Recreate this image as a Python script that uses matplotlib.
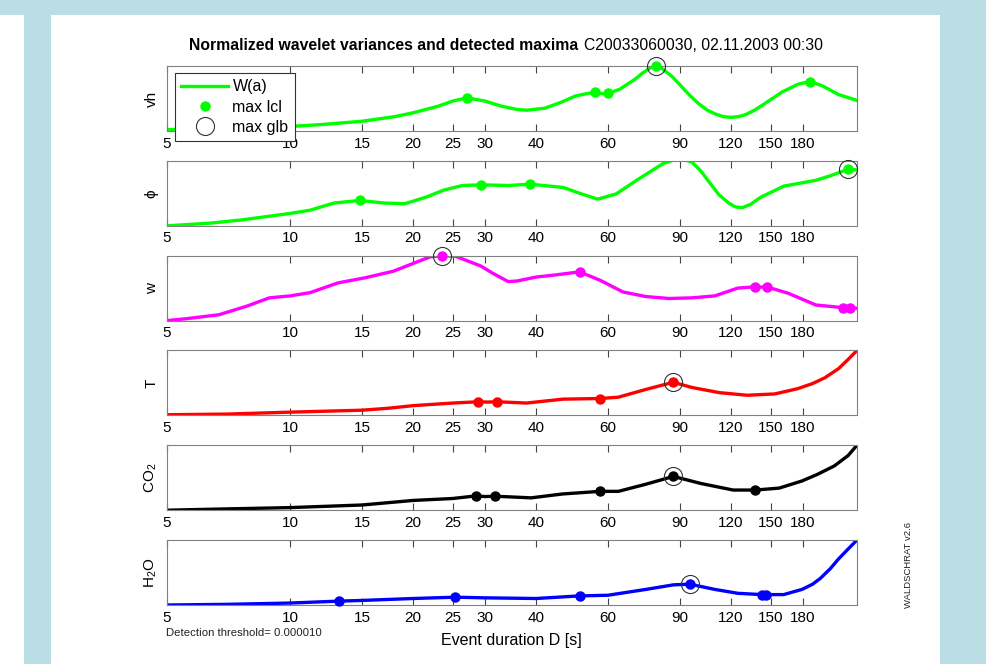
import numpy as np
import matplotlib
matplotlib.use("Agg")
import matplotlib.pyplot as plt
from matplotlib.patches import Rectangle
from matplotlib.lines import Line2D
from matplotlib.ticker import NullLocator

plt.rcParams['font.family'] = ['Liberation Sans', 'DejaVu Sans']
plt.rcParams['mathtext.fontset'] = 'custom'
plt.rcParams['mathtext.rm'] = 'Liberation Sans'
plt.rcParams['mathtext.it'] = 'Liberation Sans:italic'
plt.rcParams['mathtext.bf'] = 'Liberation Sans:bold'

# tick positions / labels on the duration axis
tick_vals = [5, 10, 15, 20, 25, 30, 40, 60, 90, 120, 150, 180]
tick_labels = [str(t) for t in tick_vals]
d_min, d_max = 5, 244

# normalized wavelet variance per channel: duration D [s] and W(a)
vh_D = [5, 7, 10, 12, 15, 18, 20, 23, 25, 27.1, 30, 33, 36, 38, 42, 46, 50, 55.8, 58, 60,
        64, 70, 72.5, 76, 78.8, 81, 86, 90, 95, 100, 105, 110, 115, 120, 125, 130, 137,
        145, 160, 175, 187, 200, 220, 244]
vh_W = [0.02, 0.04, 0.07, 0.10, 0.15, 0.22, 0.28, 0.38, 0.46, 0.51, 0.46, 0.38, 0.33, 0.32,
        0.35, 0.44, 0.54, 0.60, 0.575, 0.58, 0.64, 0.80, 0.88, 0.97, 1.0, 0.97, 0.84, 0.71,
        0.55, 0.42, 0.32, 0.26, 0.22, 0.21, 0.22, 0.25, 0.32, 0.42, 0.60, 0.72, 0.76, 0.70,
        0.56, 0.47]
vh_lcl = [27.1, 55.8, 60, 78.8, 187]
vh_glb = [78.8]

phi_D = [5, 6.36, 7.6, 10, 11.2, 12.8, 14.8, 17, 19.1, 21.5, 23.8, 26.4, 29.3, 34.2, 38.7,
         46.6, 51.7, 56.6, 62.8, 70.5, 78.2, 82, 86.7, 90, 93, 96.2, 101, 106.8, 112,
         118.4, 123, 127.9, 134, 141.9, 161.4, 193.5, 210, 232, 244]
phi_W = [0.0, 0.04, 0.09, 0.19, 0.24, 0.35, 0.39, 0.35, 0.34, 0.44, 0.55, 0.62, 0.63, 0.62,
         0.64, 0.59, 0.49, 0.41, 0.49, 0.70, 0.88, 0.96, 1.01, 1.02, 1.01, 0.98, 0.85, 0.65,
         0.48, 0.35, 0.29, 0.28, 0.33, 0.44, 0.61, 0.70, 0.77, 0.87, 0.86]
phi_lcl = [14.8, 29.3, 38.7, 232]
phi_glb = [232]

w_D = [5, 5.59, 6.7, 7.82, 8.9, 10, 11.2, 13.1, 15.3, 17.9, 20.4, 22.0, 23.6, 25.4, 29.3,
       31.5, 34.2, 36, 40, 44.3, 51.1, 57.4, 65.3, 74.3, 84.6, 96.2, 109.5, 124.6, 137.5,
       142, 146.7, 165.7, 193.5, 225, 230, 235, 244]
w_W = [0.0, 0.03, 0.09, 0.22, 0.35, 0.38, 0.43, 0.58, 0.66, 0.76, 0.90, 0.98, 1.0, 0.99,
       0.84, 0.72, 0.60, 0.61, 0.67, 0.70, 0.75, 0.62, 0.44, 0.37, 0.34, 0.35, 0.38, 0.50,
       0.52, 0.515, 0.52, 0.42, 0.24, 0.20, 0.195, 0.20, 0.19]
w_lcl = [23.6, 51.1, 137.5, 146.7, 225, 235]
w_glb = [23.6]

T_D = [5, 7, 10, 15, 17.4, 20, 25, 28.9, 30.5, 32.1, 37.9, 46.5, 57.4, 63.6, 74.3, 86.7,
       96.2, 112.4, 131.3, 153.4, 174.4, 190, 203.7, 220, 232, 244]
T_W = [0.01, 0.02, 0.05, 0.08, 0.11, 0.15, 0.19, 0.21, 0.205, 0.21, 0.19, 0.25, 0.26, 0.28,
       0.40, 0.51, 0.43, 0.35, 0.31, 0.33, 0.41, 0.49, 0.58, 0.72, 0.86, 1.0]
T_lcl = [28.9, 32.1, 57.4, 86.7]
T_glb = [86.7]

co2_D = [5, 7, 10, 15, 20, 25, 28.5, 30, 31.8, 38.9, 46.5, 57.4, 63.6, 74.3, 86.7, 101.4,
         121.5, 137.5, 157.4, 179, 195, 214.6, 232, 244]
co2_W = [0.0, 0.02, 0.04, 0.08, 0.15, 0.18, 0.22, 0.21, 0.215, 0.19, 0.25, 0.29, 0.29, 0.40,
         0.52, 0.41, 0.31, 0.31, 0.34, 0.45, 0.55, 0.68, 0.84, 1.0]
co2_lcl = [28.5, 31.8, 57.4, 86.7, 137.5]
co2_glb = [86.7]

h2o_D = [5, 7, 10, 13.2, 15, 20, 25.4, 30, 40, 51.1, 60, 74.3, 86.7, 95.2, 109.5, 124.6,
         142.6, 146, 161.4, 179, 190, 198.5, 210, 220, 232, 244]
h2o_W = [0.0, 0.01, 0.03, 0.06, 0.07, 0.10, 0.12, 0.11, 0.10, 0.14, 0.15, 0.24, 0.31, 0.32,
         0.24, 0.18, 0.16, 0.16, 0.16, 0.24, 0.32, 0.41, 0.56, 0.71, 0.86, 1.0]
h2o_lcl = [13.2, 25.4, 51.1, 95.2, 142.6, 146]
h2o_glb = [95.2]

channels = [
    ('vh', vh_D, vh_W, vh_lcl, vh_glb, (0, 1, 0)),
    ('\u03d5', phi_D, phi_W, phi_lcl, phi_glb, (0, 1, 0)),
    ('w', w_D, w_W, w_lcl, w_glb, (1, 0, 1)),
    ('T', T_D, T_W, T_lcl, T_glb, (1, 0, 0)),
    ('CO$_2$', co2_D, co2_W, co2_lcl, co2_glb, (0, 0, 0)),
    ('H$_2$O', h2o_D, h2o_W, h2o_lcl, h2o_glb, (0, 0, 1)),
]

W, H = 987, 664
fig = plt.figure(figsize=(W / 100, H / 100), dpi=100, facecolor='white')

# light blue frame around the page
bg = '#BBDEE4'
for x0, y0, w, h in [(0, 0, 987, 15), (24, 0, 27, 664), (940, 0, 47, 664)]:
    fig.patches.append(Rectangle((x0 / W, 1 - (y0 + h) / H), w / W, h / H,
                                 transform=fig.transFigure, facecolor=bg,
                                 edgecolor='none', zorder=0))

ax_left, ax_right = 167, 857
ax_h = 65
axes = []
for i, (name, D, Wa, lcl, glb, col) in enumerate(channels):
    top = 66 + i * 94.8
    ax = fig.add_axes([ax_left / W, 1 - (top + ax_h) / H, (ax_right - ax_left) / W, ax_h / H])
    axes.append(ax)
    ax.plot(D, Wa, '-', color=col, lw=2.4, solid_joinstyle='round')
    ly = [Wa[D.index(d)] for d in lcl]
    ax.plot(lcl, ly, 'o', color=col, ms=6.5, clip_on=False, zorder=3)
    gy = [Wa[D.index(d)] for d in glb]
    ax.plot(glb, gy, 'o', mfc='none', mec='#333333', mew=0.8, ms=13, clip_on=False, zorder=4)

    ax.set_xscale('log')
    ax.set_xlim(d_min, d_max)
    ax.set_ylim(0, 1)
    ax.set_xticks(tick_vals)
    ax.set_xticklabels(tick_labels)
    ax.xaxis.set_minor_locator(NullLocator())
    ax.set_yticks([])
    ax.tick_params(axis='x', direction='in', top=True, bottom=True, length=5,
                   width=0.8, color='#444444', labelsize=11, pad=4)
    for sp in ax.spines.values():
        sp.set_color('#808080')
        sp.set_linewidth(0.8)
    ax.set_ylabel(name, fontsize=11, labelpad=6)

# legend in the top panel
handles = [Line2D([], [], color=(0, 1, 0), lw=2.4),
           Line2D([], [], ls='none', marker='o', color=(0, 1, 0), ms=6.5),
           Line2D([], [], ls='none', marker='o', mfc='none', mec='#333333', mew=0.8, ms=13)]
leg = axes[0].legend(handles, ['W(a)', 'max lcl', 'max glb'], loc='upper left',
                     bbox_to_anchor=(175 / W, 1 - 73 / H), bbox_transform=fig.transFigure,
                     borderaxespad=0, fontsize=11.5, handlelength=2.9, handletextpad=0.3,
                     labelspacing=0.32, borderpad=0.4, fancybox=False, framealpha=1,
                     edgecolor='#333333')
leg.get_frame().set_linewidth(0.8)

# title: bold part + run info
fig.text(578 / W, 1 - 46 / H, 'Normalized wavelet variances and detected maxima',
         ha='right', va='center', fontsize=11.3, fontweight='bold')
fig.text(584 / W, 1 - 46 / H, 'C20033060030, 02.11.2003 00:30',
         ha='left', va='center', fontsize=11.3)

fig.text(511 / W, 1 - 640 / H, 'Event duration D [s]', ha='center', va='center', fontsize=11.5)
fig.text(166 / W, 1 - 633 / H, 'Detection threshold= 0.000010', ha='left', va='center',
         fontsize=8.2, color='#222222')
fig.text(909 / W, 1 - 565 / H, 'WALDSCHRAT v2.6', ha='center', va='center', rotation=90,
         fontsize=6.8, color='#222222')

fig.savefig('out.png', dpi=100, facecolor=fig.get_facecolor())
